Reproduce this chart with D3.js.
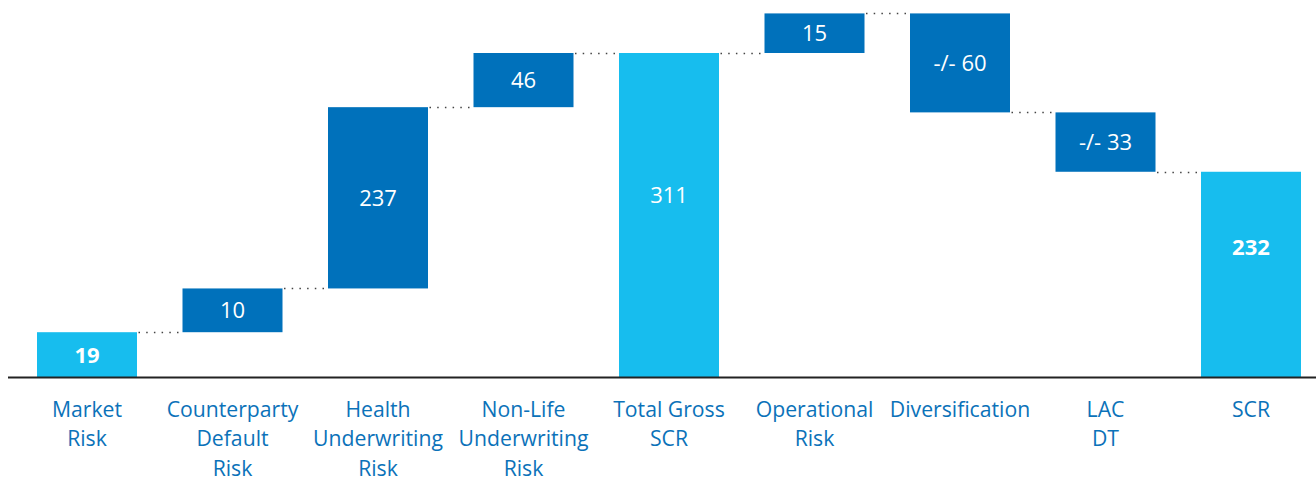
<!DOCTYPE html>
<html>
<head>
<meta charset="utf-8">
<script src="https://cdn.jsdelivr.net/npm/d3@7"></script>
<style>
  body { margin: 0; background: #fff; }
  svg { display: block; font-family: "Open Sans", sans-serif; }
</style>
</head>
<body>
<svg width="1316" height="478"></svg>
<script>
// waterfall do SCR - o original nao esta em escala, entao os passos
// abaixo sao a altura desenhada de cada barra, e os
// textos sao os valores impressos

var categories = ["Market Risk", "Counterparty Default Risk", "Health Underwriting Risk",
  "Non-Life Underwriting Risk", "Total Gross SCR", "Operational Risk",
  "Diversification", "LAC DT", "SCR"];
var categoryLines = [["Market", "Risk"], ["Counterparty", "Default", "Risk"],
  ["Health", "Underwriting", "Risk"], ["Non-Life", "Underwriting", "Risk"],
  ["Total Gross", "SCR"], ["Operational", "Risk"], ["Diversification"],
  ["LAC", "DT"], ["SCR"]];
var kinds = ["start", "step", "step", "step", "total", "step", "step", "step", "total"];
var steps = [43, 42, 174, 52, 311, 38, -95, -57, 197];
var valueLabels = ["19", "10", "237", "46", "311", "15", "-/- 60", "-/- 33", "232"];
// onde fica o texto nas barras de total (null = meio da barra)
var labelLevel = [null, null, null, null, 175, null, null, null, 125];

var svg = d3.select("svg"),
    width = +svg.attr("width"),
    baseY = 377;

var dark = "#0071bb", light = "#17bdee";

// monta inicio/fim de cada barra
var running = 0;
var data = categories.map(function(c, i) {
  var y0, y1;
  if (kinds[i] == "step") { y0 = running; y1 = running + steps[i]; }
  else { y0 = 0; y1 = steps[i]; }
  running = y1;
  return {cat: c, lines: categoryLines[i], kind: kinds[i], y0: y0, y1: y1,
    label: valueLabels[i], at: labelLevel[i], i: i};
});

var x = d3.scaleBand()
  .domain(categories)
  .range([37, 1301])
  .paddingInner(0.3127)
  .paddingOuter(0);

var y = d3.scaleLinear()
  .domain([0, 311])
  .range([baseY, 53]);

// linhas pontilhadas entre as barras
svg.append("g")
  .selectAll("line")
  .data(data.slice(0, -1))
  .enter().append("line")
  .attr("x1", function(d) { return x(d.cat) + x.bandwidth(); })
  .attr("x2", function(d) { return x(categories[d.i + 1]); })
  .attr("y1", function(d) { return Math.round(y(d.y1)) + 0.5; })
  .attr("y2", function(d) { return Math.round(y(d.y1)) + 0.5; })
  .attr("stroke", "#444")
  .attr("stroke-width", 1.5)
  .attr("stroke-dasharray", "1.5,6.2")
  .attr("stroke-dashoffset", -1.5);

// barras
svg.append("g")
  .selectAll("rect")
  .data(data)
  .enter().append("rect")
  .attr("x", function(d) { return x(d.cat); })
  .attr("y", function(d) { return y(Math.max(d.y0, d.y1)); })
  .attr("width", x.bandwidth())
  .attr("height", function(d) { return Math.abs(y(d.y0) - y(d.y1)); })
  .attr("fill", function(d) { return d.kind == "step" ? dark : light; });

// valores dentro das barras
svg.append("g")
  .selectAll("text")
  .data(data)
  .enter().append("text")
  .attr("x", function(d) { return x(d.cat) + x.bandwidth() / 2; })
  .attr("y", function(d) { return d.at != null ? y(d.at) : (y(d.y0) + y(d.y1)) / 2; })
  .attr("dy", "0.36em")
  .attr("text-anchor", "middle")
  .attr("fill", "#fff")
  .attr("font-size", 22)
  .attr("font-weight", function(d) { return (d.i == 0 || d.i == categories.length - 1) ? "bold" : "normal"; })
  .text(function(d) { return d.label; });

// eixo
svg.append("line")
  .attr("x1", 8)
  .attr("x2", width)
  .attr("y1", baseY + 0.5)
  .attr("y2", baseY + 0.5)
  .attr("stroke", "#222")
  .attr("stroke-width", 2);

// nomes das categorias
var cats = svg.append("g")
  .selectAll("text")
  .data(data)
  .enter().append("text")
  .attr("text-anchor", "middle")
  .attr("fill", "#0b72b9")
  .attr("font-size", 21.2)
  .attr("transform", function(d) { return "translate(" + (x(d.cat) + x.bandwidth() / 2) + ",417)"; });

cats.selectAll("tspan")
  .data(function(d) { return d.lines; })
  .enter().append("tspan")
  .attr("x", 0)
  .attr("y", function(d, i) { return i * 29.3; })
  .text(function(d) { return d; });
</script>
</body>
</html>
